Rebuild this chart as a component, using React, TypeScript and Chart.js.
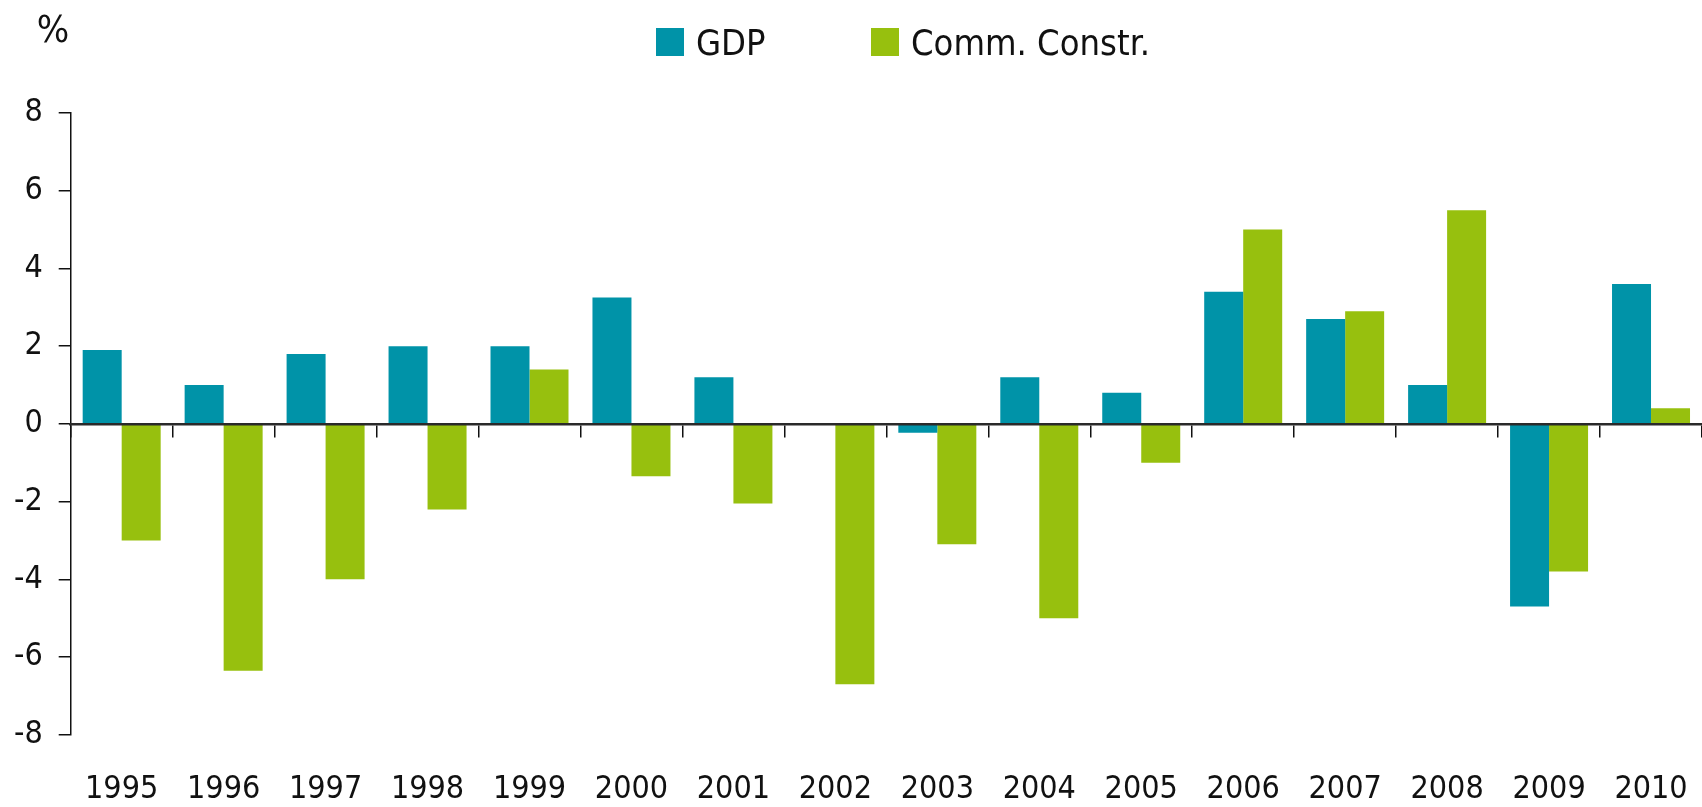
import React, { useEffect, useRef } from "react";
import { Chart, registerables } from "chart.js";

Chart.register(...registerables);

// ---- data ----
const years = ["1995", "1996", "1997", "1998", "1999", "2000", "2001", "2002", "2003", "2004", "2005", "2006", "2007", "2008", "2009", "2010"];
const gdp = [1.9, 1.0, 1.8, 2.0, 2.0, 3.25, 1.2, 0, -0.23, 1.2, 0.8, 3.4, 2.7, 1.0, -4.7, 3.6];
const commConstr = [-3.0, -6.35, -4.0, -2.2, 1.4, -1.35, -2.05, -6.7, -3.1, -5.0, -1.0, 5.0, 2.9, 5.5, -3.8, 0.4];
const yTicks = [-8, -6, -4, -2, 0, 2, 4, 6, 8];
const seriesNames = ["GDP", "Comm. Constr."];
const seriesColors = ["#0093A8", "#97C00E"];
const unitLabel = "%";

const FONT = "'DejaVu Sans Condensed', 'Liberation Sans', sans-serif";
const INK = "#111111";

const overlayPlugin = {
  id: "overlay",
  afterDraw(chart: any) {
    const ctx = chart.ctx;
    ctx.save();
    ctx.font = `38px ${FONT}`;
    ctx.fillStyle = INK;
    ctx.textAlign = "center";
    ctx.textBaseline = "alphabetic";
    ctx.fillText(unitLabel, 53, 42);
    const itemX = [656, 871];
    ctx.font = `36px ${FONT}`;
    chart.data.datasets.forEach((ds: any, i: number) => {
      const x = itemX[i];
      ctx.fillStyle = ds.backgroundColor;
      ctx.fillRect(x, 28, 28, 28);
      ctx.fillStyle = INK;
      ctx.textAlign = "left";
      ctx.fillText(ds.label, x + 40, 55);
    });
    ctx.restore();
  },
};

export default function App() {
  const canvasRef = useRef<HTMLCanvasElement | null>(null);

  useEffect(() => {
    if (!canvasRef.current) return;
    const chart = new Chart(canvasRef.current, {
      type: "bar",
      data: {
        labels: years,
        datasets: [
          {
            label: seriesNames[0],
            data: gdp,
            backgroundColor: seriesColors[0],
            borderWidth: 0,
            xAxisID: "x",
            yAxisID: "y",
          },
          {
            label: seriesNames[1],
            data: commConstr,
            backgroundColor: seriesColors[1],
            borderWidth: 0,
            xAxisID: "x",
            yAxisID: "y",
          },
        ],
      },
      options: {
        animation: false,
        responsive: false,
        maintainAspectRatio: false,
        datasets: {
          bar: { categoryPercentage: 0.765, barPercentage: 1.0 },
        },
        layout: { padding: { left: -2, right: 0, top: 113, bottom: -37.8 } },
        plugins: {
          legend: { display: false },
          tooltip: { enabled: false },
          title: { display: false },
        },
        scales: {
          x: {
            type: "category",
            position: "bottom",
            offset: true,
            grid: { display: false, drawTicks: false, offset: true },
            border: { display: false },
            ticks: {
              color: INK,
              font: { family: FONT, size: 32, lineHeight: 3.25 },
              padding: 3,
              maxRotation: 0,
              autoSkip: false,
            },
          },
          x0: {
            type: "category",
            position: { y: 0 },
            offset: true,
            grid: {
              display: true,
              drawOnChartArea: false,
              drawTicks: true,
              tickLength: 12,
              offset: true,
              color: INK,
              lineWidth: 1.5,
            },
            border: { display: true, color: "#2a2a2a", width: 2.5, z: 1 },
            ticks: { display: false },
          },
          y: {
            type: "linear",
            position: "left",
            min: -8,
            max: 8,
            afterBuildTicks: (axis: any) => {
              axis.ticks = yTicks.map((v) => ({ value: v }));
            },
            grid: {
              display: true,
              drawOnChartArea: false,
              drawTicks: true,
              tickLength: 12,
              color: INK,
              lineWidth: 1.5,
            },
            border: { display: true, color: INK, width: 1.5 },
            ticks: {
              color: INK,
              font: { family: FONT, size: 32 },
              padding: 16,
            },
          },
        },
      },
      plugins: [overlayPlugin],
    } as any);
    return () => chart.destroy();
  }, []);

  return (
    <div style={{ position: "fixed", left: 0, top: 0, width: 1702, height: 807, background: "#ffffff" }}>
      <canvas ref={canvasRef} width={1702} height={807} style={{ display: "block", width: 1702, height: 807 }} />
    </div>
  );
}
